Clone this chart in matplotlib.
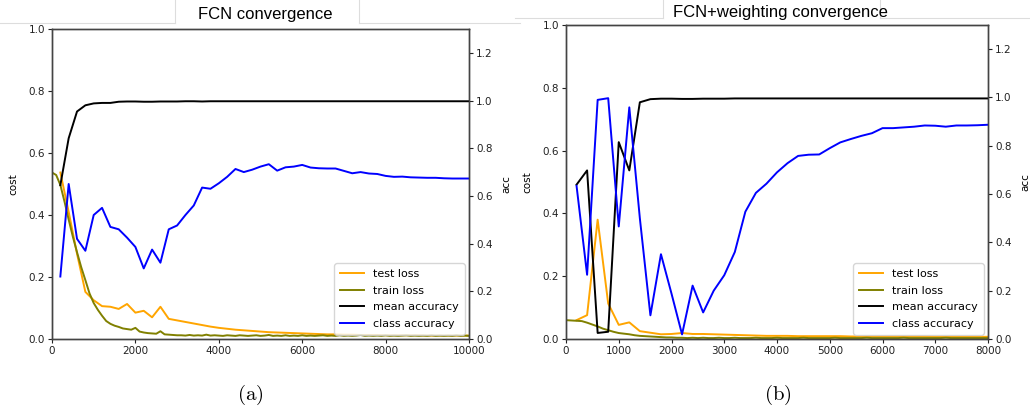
import matplotlib
matplotlib.use("Agg")
import matplotlib.pyplot as plt
from matplotlib.lines import Line2D
import numpy as np

plt.rcParams['mathtext.fontset'] = 'cm'

# ---------------- data: panel (a) FCN ----------------
a_eval_iter = list(range(200, 10001, 200))
a_test_loss = [0.537, 0.41, 0.275, 0.152, 0.125, 0.106, 0.104, 0.097, 0.113, 0.085,
               0.091, 0.070, 0.104, 0.065, 0.060, 0.055, 0.050, 0.045, 0.040, 0.036,
               0.033, 0.030, 0.028, 0.026, 0.024, 0.022, 0.021, 0.020, 0.019, 0.018,
               0.017, 0.016, 0.015, 0.015, 0.014, 0.014, 0.013, 0.013, 0.013, 0.012,
               0.012, 0.012, 0.012, 0.012, 0.011, 0.011, 0.011, 0.011, 0.011, 0.011]
a_mean_acc = [0.645, 0.842, 0.954, 0.980, 0.988, 0.990, 0.990, 0.995, 0.996, 0.996,
              0.995, 0.995, 0.996, 0.996, 0.996, 0.997, 0.997, 0.996, 0.997, 0.997,
              0.997, 0.997, 0.997, 0.997, 0.997, 0.997, 0.997, 0.997, 0.997, 0.997,
              0.997, 0.997, 0.997, 0.997, 0.997, 0.997, 0.997, 0.997, 0.997, 0.997,
              0.997, 0.997, 0.997, 0.997, 0.997, 0.997, 0.997, 0.997, 0.997, 0.997]
a_class_acc = [0.262, 0.650, 0.420, 0.370, 0.520, 0.550, 0.470, 0.460, 0.425, 0.386,
               0.296, 0.375, 0.320, 0.460, 0.476, 0.520, 0.560, 0.635, 0.630, 0.653,
               0.680, 0.713, 0.700, 0.710, 0.723, 0.733, 0.706, 0.720, 0.723, 0.730,
               0.719, 0.716, 0.715, 0.715, 0.705, 0.695, 0.700, 0.694, 0.692, 0.684,
               0.680, 0.681, 0.678, 0.677, 0.676, 0.676, 0.674, 0.673, 0.673, 0.673]
a_train_iter = list(range(0, 10001, 100))
a_train_loss = [0.537, 0.529, 0.497, 0.443, 0.385, 0.330, 0.280, 0.232, 0.190, 0.147,
                0.116, 0.094, 0.075, 0.058, 0.049, 0.043, 0.039, 0.034, 0.032, 0.030,
                0.036, 0.024, 0.021, 0.019, 0.018, 0.017, 0.025, 0.015, 0.014, 0.013,
                0.012, 0.012, 0.011, 0.013, 0.011, 0.012, 0.011, 0.014, 0.011, 0.012,
                0.011, 0.010, 0.012, 0.011, 0.010, 0.012, 0.011, 0.010, 0.011, 0.012,
                0.010, 0.011, 0.013, 0.010, 0.011, 0.010, 0.012, 0.010, 0.011, 0.010,
                0.012, 0.010, 0.011, 0.010, 0.011, 0.012, 0.010, 0.011, 0.010, 0.012,
                0.010, 0.011, 0.010, 0.011, 0.013, 0.010, 0.011, 0.010, 0.011, 0.010,
                0.012, 0.010, 0.011, 0.010, 0.011, 0.012, 0.010, 0.011, 0.010, 0.011,
                0.010, 0.012, 0.010, 0.011, 0.010, 0.011, 0.010, 0.012, 0.010, 0.011,
                0.010]

# ---------------- data: panel (b) FCN+weighting ----------------
b_eval_iter = list(range(200, 8001, 200))
b_test_loss = [0.060, 0.076, 0.380, 0.113, 0.045, 0.053, 0.025, 0.020, 0.015, 0.016,
               0.019, 0.016, 0.016, 0.015, 0.014, 0.013, 0.012, 0.011, 0.010, 0.010,
               0.010, 0.009, 0.009, 0.009, 0.009, 0.009, 0.008, 0.008, 0.008, 0.008,
               0.008, 0.008, 0.008, 0.008, 0.007, 0.007, 0.007, 0.007, 0.007, 0.007]
b_mean_acc = [0.639, 0.698, 0.025, 0.030, 0.815, 0.698, 0.980, 0.993, 0.995, 0.995,
              0.994, 0.994, 0.995, 0.995, 0.995, 0.996, 0.996, 0.996, 0.996, 0.996,
              0.996, 0.996, 0.996, 0.996, 0.996, 0.996, 0.996, 0.996, 0.996, 0.996,
              0.996, 0.996, 0.996, 0.996, 0.996, 0.996, 0.996, 0.996, 0.996, 0.996]
b_class_acc = [0.634, 0.266, 0.990, 0.997, 0.466, 0.959, 0.500, 0.098, 0.351, 0.188,
               0.019, 0.221, 0.110, 0.200, 0.264, 0.360, 0.527, 0.605, 0.643, 0.690,
               0.728, 0.758, 0.763, 0.764, 0.790, 0.814, 0.828, 0.841, 0.852, 0.873,
               0.873, 0.876, 0.879, 0.884, 0.883, 0.879, 0.884, 0.884, 0.885, 0.887]
b_train_iter = list(range(0, 8001, 100))
b_train_loss = [0.060, 0.059, 0.058, 0.057, 0.052, 0.046, 0.040, 0.033, 0.028, 0.023,
                0.019, 0.017, 0.015, 0.012, 0.010, 0.009, 0.008, 0.007, 0.006, 0.005,
                0.005, 0.004, 0.004, 0.003, 0.004, 0.003, 0.004, 0.003, 0.003, 0.004,
                0.003, 0.003, 0.004, 0.003, 0.003, 0.003, 0.004, 0.003, 0.003, 0.003,
                0.004, 0.003, 0.003, 0.003, 0.003, 0.004, 0.003, 0.003, 0.003, 0.003,
                0.003, 0.004, 0.003, 0.003, 0.003, 0.003, 0.003, 0.004, 0.003, 0.003,
                0.003, 0.003, 0.003, 0.003, 0.004, 0.003, 0.003, 0.003, 0.003, 0.003,
                0.003, 0.003, 0.004, 0.003, 0.003, 0.003, 0.003, 0.003, 0.003, 0.003,
                0.003]

titles = ["FCN convergence", "FCN+weighting convergence"]
sub_labels = ["(a)", "(b)"]
legend_labels = ["test loss", "train loss", "mean accuracy", "class accuracy"]

W, H = 1030, 417
fig = plt.figure(figsize=(W / 100, H / 100), dpi=100)

def fx(px):
    return px / W

def fy(py):
    return 1 - py / H

spine_col = '#444444'
fs = 7.5

def panel(rect, xmax, xticks, tr_it, tr_loss, ev_it, te_loss, mean_acc, cls_acc):
    ax = fig.add_axes(rect)
    ax2 = ax.twinx()
    l1, = ax.plot(ev_it, te_loss, color='orange', lw=1.4)
    l2, = ax.plot(tr_it, tr_loss, color='olive', lw=1.4)
    l3, = ax2.plot(ev_it, mean_acc, color='black', lw=1.4)
    l4, = ax2.plot(ev_it, cls_acc, color='blue', lw=1.4)
    ax.set_xlim(0, xmax)
    ax.set_ylim(0, 1.0)
    ax2.set_ylim(0, 1.3)
    ax.set_xticks(xticks)
    ax.set_yticks([0, 0.2, 0.4, 0.6, 0.8, 1.0])
    ax2.set_yticks([0, 0.2, 0.4, 0.6, 0.8, 1.0, 1.2])
    ax.set_ylabel("cost", fontsize=fs, labelpad=7)
    ax2.set_ylabel("acc", fontsize=fs, labelpad=6)
    for a in (ax, ax2):
        a.tick_params(labelsize=fs, colors='#222222', length=3, width=0.8, pad=2)
        for s in a.spines.values():
            s.set_color(spine_col)
            s.set_linewidth(1.0)
    ax2.legend([l1, l2, l3, l4], legend_labels, loc='lower right', fontsize=8,
               handlelength=2.2, borderpad=0.5, labelspacing=0.6, framealpha=0.8,
               borderaxespad=0.4)
    return ax, ax2

# panel (a)
panel([fx(52), fy(339), fx(469) - fx(52), fy(29) - fy(339)], 10000,
      [0, 2000, 4000, 6000, 8000, 10000],
      a_train_iter, a_train_loss, a_eval_iter, a_test_loss, a_mean_acc, a_class_acc)
# panel (b)
panel([fx(566), fy(339), fx(988) - fx(566), fy(25) - fy(339)], 8000,
      [0, 1000, 2000, 3000, 4000, 5000, 6000, 7000, 8000],
      b_train_iter, b_train_loss, b_eval_iter, b_test_loss, b_mean_acc, b_class_acc)

# faint header-box lines around titles
gc = '#dddddd'
for (x0, x1, y0, y1) in [(0, 175, 23, 23), (359, 520, 23, 23), (175, 175, 0, 23), (359, 359, 0, 23),
                         (515, 663, 18, 18), (880, 1030, 18, 18), (663, 663, 0, 18), (880, 880, 0, 18)]:
    fig.add_artist(Line2D([fx(x0), fx(x1)], [fy(y0), fy(y1)], color=gc, lw=0.8))

fig.text(fx(265), fy(14), titles[0], ha='center', va='center', fontsize=12,
         family='Liberation Sans')
fig.text(fx(780), fy(12), titles[1], ha='center', va='center', fontsize=12,
         family='Liberation Sans')

fig.text(fx(250), fy(395), r'$\mathrm{' + sub_labels[0] + '}$', ha='center', va='center', fontsize=15)
fig.text(fx(778), fy(395), r'$\mathrm{' + sub_labels[1] + '}$', ha='center', va='center', fontsize=15)

fig.savefig("out.png", dpi=100)
